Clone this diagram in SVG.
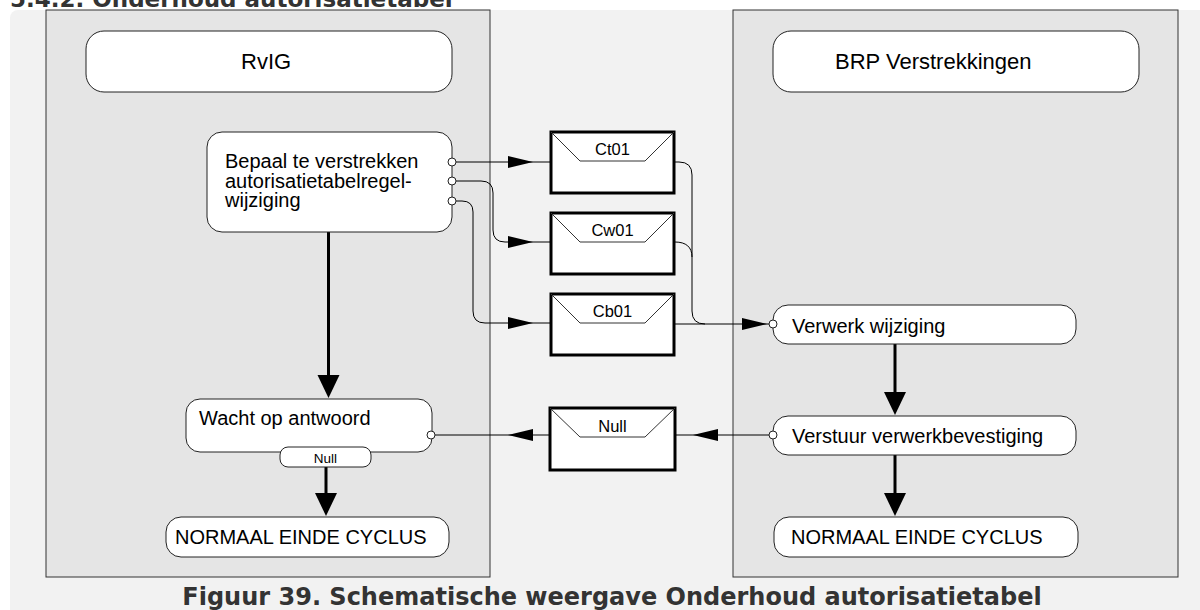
<svg xmlns="http://www.w3.org/2000/svg" xmlns:xlink="http://www.w3.org/1999/xlink" width="1200" height="610" viewBox="0 0 1200 610">
<style>
.lane{fill:#e5e5e5;stroke:#333;stroke-width:1}
.node{fill:#fff;stroke:#222;stroke-width:1}
.env{fill:#fff;stroke:#000;stroke-width:3}
.flap{fill:none;stroke:#333;stroke-width:1}
.port{fill:#fff;stroke:#222;stroke-width:1}
.msg{fill:none;stroke:#000;stroke-width:1}
.flow{fill:none;stroke:#000;stroke-width:3}
.dash{fill:none;stroke:#000;stroke-width:1;stroke-dasharray:5 4}
.t{font-family:"Liberation Sans",Arial,sans-serif;fill:#000}
.hd{font-size:22px}
.lb{font-size:20px}
.el{font-size:16.5px;text-anchor:middle}
.sm{font-size:13.5px;text-anchor:middle}
.ttl{font-family:"DejaVu Sans",Verdana,sans-serif;font-weight:bold;fill:#333}
</style>
<defs>
<path id="ahR" d="M0,0 L-25,-6 L-25,6 Z" fill="#000"/>
<path id="ahL" d="M0,0 L25,-6 L25,6 Z" fill="#000"/>
<path id="ahD" d="M0,0 L-11,-23 L11,-23 Z" fill="#000"/>
</defs>
<rect x="0" y="0" width="1200" height="610" fill="#fff"/>
<rect x="10" y="10" width="1210" height="620" rx="8" fill="#f2f2f2"/>
<text class="ttl" x="10" y="7" font-size="23">5.4.2. Onderhoud autorisatietabel</text>
<text class="ttl" x="612" y="605" font-size="24" text-anchor="middle">Figuur 39. Schematische weergave Onderhoud autorisatietabel</text>

<g id="lane-rvig"><rect class="lane" x="46" y="10" width="444" height="567"/></g>
<g id="lane-brp"><rect class="lane" x="733" y="10" width="445" height="567"/></g>

<g id="connectors">
  <path class="msg" d="M456,162 H551"/>
  <use xlink:href="#ahR" x="533" y="162"/>
  <path class="msg" d="M456,181 H481 Q493,181 493,193 V230 Q493,242 505,242 H551"/>
  <use xlink:href="#ahR" x="533" y="242"/>
  <path class="msg" d="M456,201 H462 Q473,201 473,212 V311 Q473,323 485,323 H551"/>
  <use xlink:href="#ahR" x="533" y="323"/>
  <path class="msg" d="M675,162 H679 Q692,162 692,175 V311 Q692,324 705,324"/>
  <path class="msg" d="M675,242 C686,242 692,247 692,257"/>
  <path class="msg" d="M675,324 H769"/>
  <use xlink:href="#ahR" x="767" y="324"/>
  <path class="msg" d="M769,435 H675"/>
  <use xlink:href="#ahL" x="693" y="435"/>
  <path class="msg" d="M550,435 H435"/>
  <use xlink:href="#ahL" x="508" y="435"/>
  <path class="dash" d="M427,435 H352 C341,435 333,438 330,443"/>
  <path class="flow" d="M328.5,232 V380"/>
  <use xlink:href="#ahD" x="328.5" y="398"/>
  <path class="flow" d="M326,467 V498"/>
  <use xlink:href="#ahD" x="326" y="516"/>
  <path class="flow" d="M895,344 V396"/>
  <use xlink:href="#ahD" x="895" y="415"/>
  <path class="flow" d="M895,455 V498"/>
  <use xlink:href="#ahD" x="895" y="516"/>
</g>

<g id="node-rvig"><rect class="node" x="86" y="31" width="366" height="61" rx="18"/><text class="t hd" x="241" y="69">RvIG</text></g>
<g id="node-brp"><rect class="node" x="773" y="31" width="366" height="61" rx="18"/><text class="t hd" x="835" y="69">BRP Verstrekkingen</text></g>

<g id="node-bepaal">
  <rect class="node" x="207" y="132" width="245" height="100" rx="15"/>
  <text class="t lb" x="225" y="168">Bepaal te verstrekken</text>
  <text class="t lb" x="225" y="187.5">autorisatietabelregel-</text>
  <text class="t lb" x="225" y="207">wijziging</text>
  <circle class="port" cx="452" cy="162" r="4"/>
  <circle class="port" cx="452" cy="181" r="4"/>
  <circle class="port" cx="452" cy="201" r="4"/>
</g>

<g id="node-wacht">
  <rect class="node" x="186" y="399" width="246" height="53" rx="14"/>
  <text class="t lb" x="199" y="425">Wacht op antwoord</text>
  <circle class="port" cx="431" cy="435" r="4"/>
</g>
<g id="node-null-exit">
  <rect class="node" x="280" y="447" width="91" height="20" rx="8"/>
  <text class="t sm" x="325.5" y="463">Null</text>
</g>
<g id="node-einde-rvig">
  <rect class="node" x="166" y="517" width="283" height="40" rx="15"/>
  <text class="t lb" x="175" y="544">NORMAAL EINDE CYCLUS</text>
</g>

<g id="msg-ct01">
  <rect class="env" x="551" y="132" width="123" height="61"/>
  <path class="flap" d="M551,132 L580,161 H645 L674,132"/>
  <text class="t el" x="612.5" y="155">Ct01</text>
</g>
<g id="msg-cw01">
  <rect class="env" x="551" y="213" width="123" height="61"/>
  <path class="flap" d="M551,213 L580,242 H645 L674,213"/>
  <text class="t el" x="612.5" y="236">Cw01</text>
</g>
<g id="msg-cb01">
  <rect class="env" x="551" y="294" width="123" height="61"/>
  <path class="flap" d="M551,294 L580,323 H645 L674,294"/>
  <text class="t el" x="612.5" y="317">Cb01</text>
</g>
<g id="msg-null">
  <rect class="env" x="550" y="408" width="125" height="62"/>
  <path class="flap" d="M550,408 L580,437 H645 L675,408"/>
  <text class="t el" x="612.5" y="432">Null</text>
</g>

<g id="node-verwerk">
  <rect class="node" x="773" y="305" width="303" height="39" rx="15"/>
  <text class="t lb" x="792" y="333">Verwerk wijziging</text>
  <circle class="port" cx="773" cy="324" r="4"/>
</g>
<g id="node-verstuur">
  <rect class="node" x="773" y="416" width="303" height="39" rx="15"/>
  <text class="t lb" x="792" y="443">Verstuur verwerkbevestiging</text>
  <circle class="port" cx="773" cy="435" r="4"/>
</g>
<g id="node-einde-brp">
  <rect class="node" x="774" y="517" width="304" height="40" rx="15"/>
  <text class="t lb" x="791" y="544">NORMAAL EINDE CYCLUS</text>
</g>
</svg>
